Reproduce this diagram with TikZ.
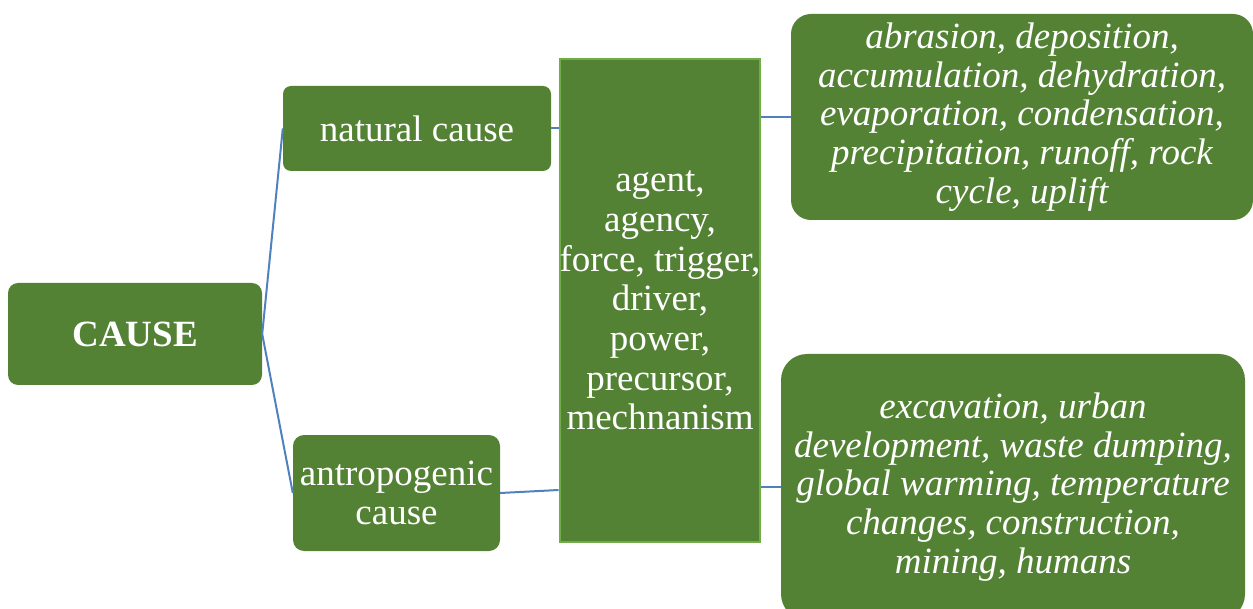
\documentclass[tikz,border=0pt]{standalone}
\usepackage{fontspec}
\setmainfont{Liberation Serif}
\definecolor{boxgreen}{HTML}{548235}
\definecolor{edgegreen}{HTML}{70AD47}
\definecolor{linkblue}{HTML}{4F81BD}
\begin{document}
\begin{tikzpicture}[x=1pt,y=-1pt,
  box/.style={fill=boxgreen, text=white, align=center, inner sep=0pt,
    font=\fontsize{37}{39}\selectfont},
  itbox/.style={box, font=\fontsize{37}{38.7}\selectfont\itshape},
  link/.style={draw=linkblue, line width=2pt}]
\clip (0,0) rectangle (1253,609);

% left column
\node[box, rounded corners=10pt, minimum width=254pt, minimum height=102pt]
  (cause) at (135,334) {\bfseries CAUSE};
\node[box, rounded corners=8pt, minimum width=268pt, minimum height=85pt]
  (natural) at (417,128.5) {natural cause};
\node[box, rounded corners=11pt, minimum width=207pt, minimum height=116pt]
  (anthro) at (396.5,493) {antropogenic\\cause};

% central synonyms column
\node[box, draw=edgegreen, line width=2pt, minimum width=198pt, minimum height=483pt,
  font=\fontsize{37}{39.7}\selectfont]
  (agent) at (660,300.5) {agent,\\agency,\\force, trigger,\\driver,\\power,\\precursor,\\mechnanism};

% examples on the right
\node[itbox, rounded corners=20pt, minimum width=462pt, minimum height=206pt]
  (natex) at (1022,117) {abrasion, deposition,\\accumulation, dehydration,\\evaporation, condensation,\\precipitation, runoff, rock\\cycle, uplift};
\node[itbox, rounded corners=26pt, minimum width=464pt, minimum height=266pt]
  (anthex) at (1013,487) {excavation, urban\\development, waste dumping,\\global warming, temperature\\changes, construction,\\mining, humans};

% connectors
\draw[link] (cause.east) -- (natural.west);
\draw[link] (cause.east) -- (anthro.west);
\draw[link] (natural.east) -- (agent.west |- natural.east);
\draw[link] (anthro.east) -- ([yshift=3pt]agent.west |- anthro.east);
\draw[link] (agent.east |- natex.west) -- (natex.west);
\draw[link] (agent.east |- anthex.west) -- (anthex.west);
\end{tikzpicture}
\end{document}
